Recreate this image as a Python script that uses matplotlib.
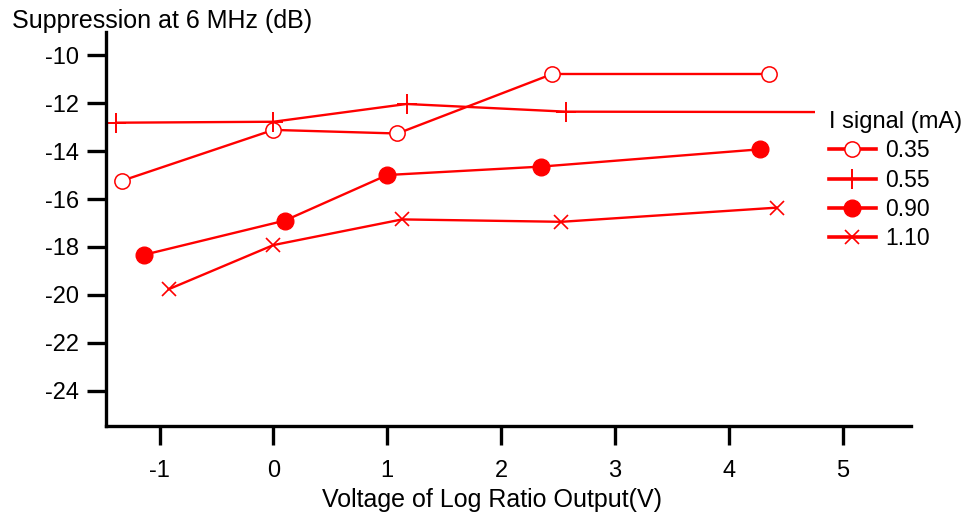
import matplotlib
matplotlib.use("Agg")
import matplotlib.pyplot as plt
from matplotlib.lines import Line2D

plt.rcParams["font.family"] = ["Liberation Sans", "DejaVu Sans"]

# I signal (mA) series, x = log ratio output voltage (V), y = suppression (dB)
X_035 = [-1.33, 0.0, 1.09, 2.45, 4.35]
Y_035 = [-15.24, -13.12, -13.27, -10.79, -10.79]

X_055 = [-1.38, 0.0, 1.17, 2.57, 5.3]
Y_055 = [-12.82, -12.78, -12.04, -12.36, -12.38]

X_090 = [-1.14, 0.10, 1.0, 2.35, 4.27]
Y_090 = [-18.33, -16.9, -15.0, -14.65, -13.93]

X_110 = [-0.92, 0.0, 1.13, 2.53, 4.42]
Y_110 = [-19.76, -17.92, -16.85, -16.95, -16.36]

LABELS = ["0.35", "0.55", "0.90", "1.10"]
X_TICKS = [-1, 0, 1, 2, 3, 4, 5]
Y_TICKS = [-24, -22, -20, -18, -16, -14, -12, -10]

RED = "#ff0000"
W, H = 971, 516

fig = plt.figure(figsize=(W / 100, H / 100), dpi=100)
ax = fig.add_axes([106 / W, 1 - 426 / H, (911 - 106) / W, (426 - 32) / H])

styles = [
    dict(marker="o", ms=11, mfc="white", mec=RED, mew=1.1),
    dict(marker="+", ms=14, mec=RED, mew=1.4),
    dict(marker="o", ms=12, mfc=RED, mec=RED),
    dict(marker="x", ms=10, mec=RED, mew=1.2),
]
series = [(X_035, Y_035), (X_055, Y_055), (X_090, Y_090), (X_110, Y_110)]
for (xs, ys), st in zip(series, styles):
    ax.plot(xs, ys, color=RED, lw=1.7, clip_on=False, **st)

ax.set_xlim(-1.47, 5.6)
ax.set_ylim(-25.46, -9.04)
ax.set_xticks(X_TICKS)
ax.set_xticklabels([str(v) for v in X_TICKS])
ax.set_yticks(Y_TICKS)
ax.set_yticklabels([str(v) for v in Y_TICKS])

for side in ("top", "right"):
    ax.spines[side].set_visible(False)
for side in ("left", "bottom"):
    ax.spines[side].set_linewidth(2.4)
ax.tick_params(axis="x", length=13.5, width=2.4, pad=11, labelsize=17)
ax.tick_params(axis="y", length=13.5, width=2.4, pad=6, labelsize=17)

fig.text(12 / W, 1 - 28 / H, "Suppression at 6 MHz (dB)", fontsize=18,
         ha="left", va="baseline")
fig.text(492 / W, 1 - 507 / H, "Voltage of Log Ratio Output(V)", fontsize=18,
         ha="center", va="baseline")

handles = [Line2D([], [], color=RED, lw=2.6, **st) for st in styles]
leg = ax.legend(handles, LABELS, title="I signal (mA)", loc="upper left",
                bbox_to_anchor=(815 / W, 1 - 97 / H), bbox_transform=fig.transFigure,
                frameon=True, facecolor="white", edgecolor="none", framealpha=1,
                borderpad=0.6, handlelength=2.05, handletextpad=0.4,
                labelspacing=0.28, fontsize=16.5, title_fontsize=17,
                alignment="left", borderaxespad=0)
leg.set_zorder(5)

fig.savefig("out.png", dpi=100)
